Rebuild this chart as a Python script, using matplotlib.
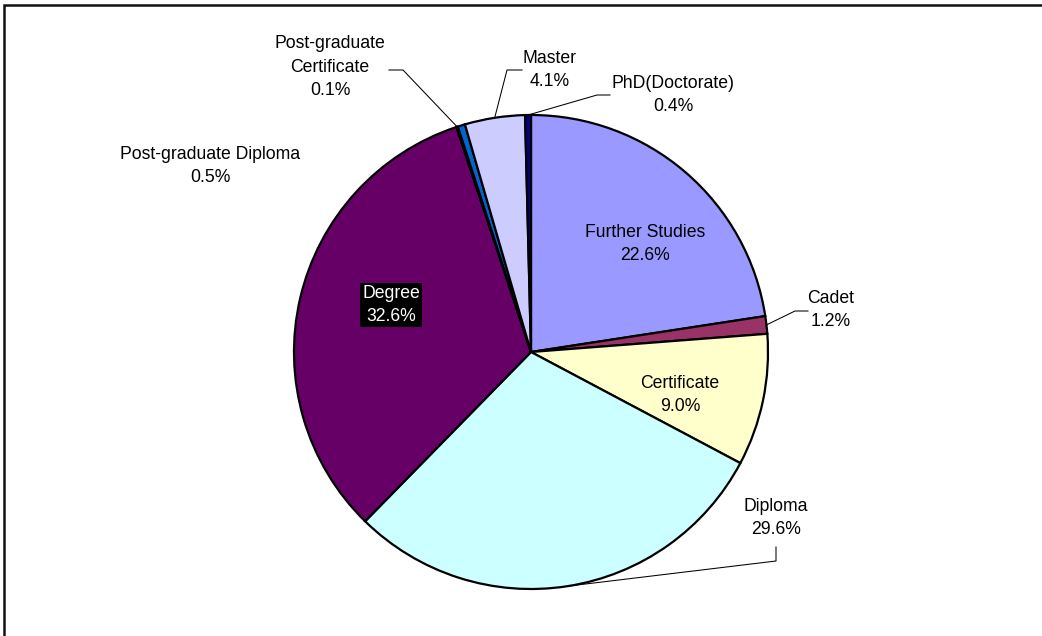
import matplotlib
matplotlib.use("Agg")
import matplotlib.pyplot as plt
from matplotlib.patches import Rectangle
import numpy as np

plt.rcParams["font.family"] = ["Liberation Sans", "DejaVu Sans"]

# data (clockwise from 12 o'clock)
categories = ["Further Studies", "Cadet", "Certificate", "Diploma", "Degree",
              "Post-graduate\nCertificate", "Post-graduate Diploma", "Master",
              "PhD(Doctorate)"]
percents = [22.6, 1.2, 9.0, 29.6, 32.6, 0.1, 0.5, 4.1, 0.4]
colors = ["#9999FF", "#993366", "#FFFFCC", "#CCFFFF", "#660066",
          "#FF8080", "#0066CC", "#CCCCFF", "#000080"]

W, H = 1042, 636
fig = plt.figure(figsize=(W / 100, H / 100), dpi=100)
ax = fig.add_axes([0, 0, 1, 1])

cx, cy, r = 531, H - 352, 237
wedges, _ = ax.pie(percents, colors=colors, startangle=90, counterclock=False,
                   center=(cx, cy), radius=r,
                   wedgeprops=dict(edgecolor="black", linewidth=1.6))
ax.set_xlim(0, W)
ax.set_ylim(0, H)
ax.set_aspect("equal")
ax.axis("off")

# frame (right and bottom edges run off the picture)
ax.add_patch(Rectangle((4, -30), 1200, H - 5 + 30, fill=False,
                       edgecolor="#111111", linewidth=1.8))


def py(y):
    return H - y


# label layout: center (pixels, y down), leader elbow points or None
layout = {
    "Further Studies": ((645, 244), None),
    "Cadet": ((831, 310), [(808, 311), (795, 311)]),
    "Certificate": ((680, 395), None),
    "Diploma": ((776, 518), [(776, 547), (776, 561)]),
    "Degree": ((391, 305), None),
    "Post-graduate\nCertificate": ((330, 67), [(389, 70), (403, 70)]),
    "Post-graduate Diploma": ((210, 166), None),
    "Master": ((550, 70), [(522, 70), (507, 70)]),
    "PhD(Doctorate)": ((673, 95), [(610, 95), (597, 95)]),
}

fs = 12.7
ls = 1.5
for w, cat, p in zip(wedges, categories, percents):
    (lx, ly), elbow = layout[cat]
    txt = "{}\n{:.1f}%".format(cat, p)
    if cat == "Degree":
        ax.text(lx, py(ly), txt, ha="center", va="center", fontsize=fs,
                color="white", multialignment="center", linespacing=ls,
                bbox=dict(facecolor="black", edgecolor="none",
                          boxstyle="square,pad=0.12"))
    else:
        ax.text(lx, py(ly), txt, ha="center", va="center", fontsize=fs,
                color="black", multialignment="center", linespacing=ls)
    if elbow is not None:
        mid = np.deg2rad((w.theta1 + w.theta2) / 2.0)
        ex, ey = cx + r * np.cos(mid), cy + r * np.sin(mid)
        xs = [e[0] for e in elbow] + [ex]
        ys = [py(e[1]) for e in elbow] + [ey]
        ax.plot(xs, ys, color="black", linewidth=0.75)

plt.savefig("out.png", dpi=100)
